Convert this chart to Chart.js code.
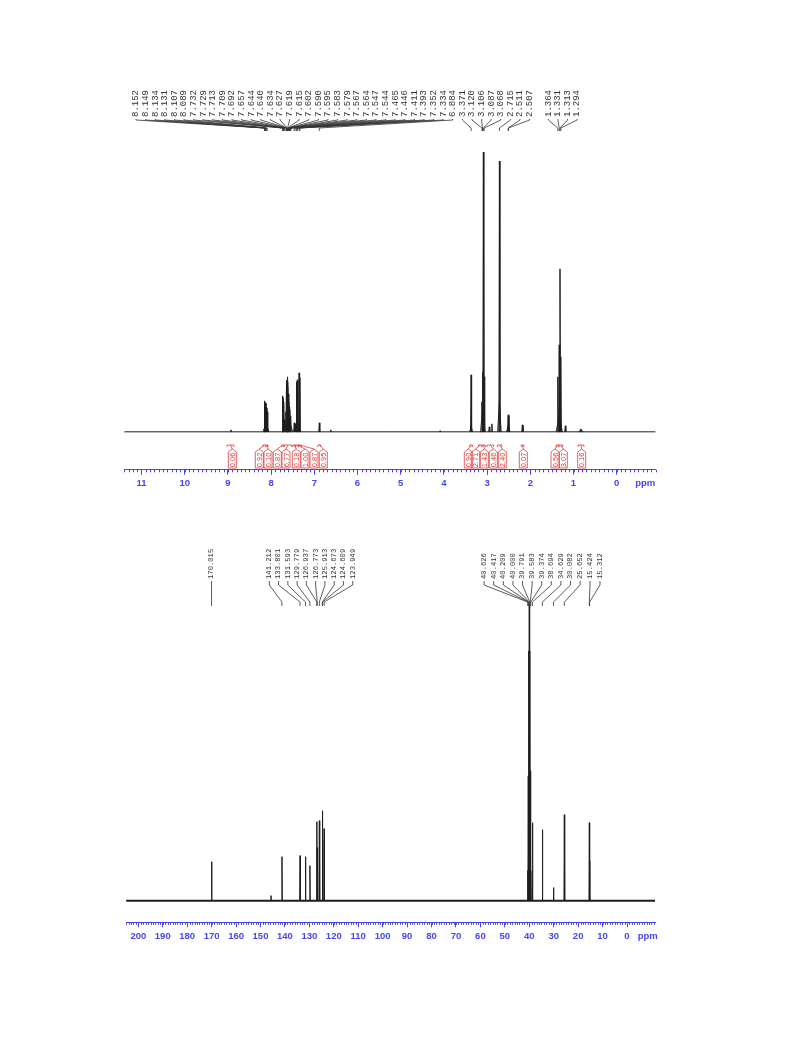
<!DOCTYPE html>
<html lang="en">
<head>
<meta charset="UTF-8">
<title>1H and 13C NMR spectra</title>
<script src="https://cdn.jsdelivr.net/npm/chart.js"></script>
<style>
    body { margin: 0; background: #fff; }
    .wrap { position: absolute; left: 0; width: 793px; }
    #h1wrap { top: 0; height: 500px; }
    #c13wrap { top: 520px; height: 450px; }
</style>
</head>
<body>
<div class="wrap" id="h1wrap"><canvas id="h1Canvas"></canvas></div>
<div class="wrap" id="c13wrap"><canvas id="c13Canvas"></canvas></div>
<script>
// ---- 1H spectrum (ppm / intensity) ----
const h1Shift = [8.930, 8.152, 8.149, 8.134, 8.131, 8.107, 8.089, 7.732, 7.729, 7.713, 7.709, 7.692,
    7.657, 7.644, 7.640, 7.634, 7.627, 7.619, 7.615, 7.602, 7.590, 7.583, 7.567, 7.547,
    7.465, 7.446, 7.411, 7.393, 7.352, 7.334, 6.884, 6.620, 4.090,
    3.371, 3.120, 3.106, 3.087, 3.068, 2.950, 2.890, 2.715, 2.511, 2.507, 2.185, 2.172,
    1.364, 1.331, 1.313, 1.294, 1.190, 0.830];
const h1Height = [2, 30, 31, 28, 29, 24, 20, 36, 35, 33, 30, 12,
    20, 47, 50, 52, 45, 55, 50, 38, 30, 25, 22, 16,
    9, 8, 50, 52, 59, 54, 9, 2, 1,
    57, 30, 60, 280, 55, 5, 8, 271, 17, 16, 7, 6,
    55, 87, 163, 75, 6, 3];
// broad multiplet bases
const h1HumpShift = [8.12, 7.60, 7.38, 3.37, 3.10, 2.715, 2.51, 1.33, 0.83];
const h1HumpHeight = [8, 14, 10, 6, 27, 30, 6, 17, 2];
const h1HumpWidth = [0.07, 0.10, 0.06, 0.03, 0.05, 0.04, 0.04, 0.07, 0.06];

// peak picking labels
const h1LabelsA = [8.152, 8.149, 8.134, 8.131, 8.107, 8.089, 7.732, 7.729, 7.713, 7.709, 7.692,
    7.657, 7.644, 7.640, 7.634, 7.627, 7.619, 7.615, 7.602, 7.590, 7.595, 7.583, 7.579, 7.567,
    7.564, 7.547, 7.544, 7.465, 7.446, 7.411, 7.393, 7.352, 7.334, 6.884,
    3.371, 3.120, 3.106, 3.087, 3.068, 2.715, 2.511, 2.507];
const h1LabelsB = [1.364, 1.331, 1.313, 1.294];

// integrals
const h1IntValue = ['0.06', '0.92', '0.10', '0.87', '6.77', '0.18', '1.00', '0.87', '0.95',
    '0.90', '2.71', '1.43', '0.46', '2.40', '0.07', '0.56', '3.07', '0.16'];
const h1IntFrom = [9.02, 8.19, 8.12, 7.75, 7.70, 7.50, 7.43, 7.37, 6.92,
    3.40, 3.20, 3.12, 3.00, 2.76, 2.21, 1.40, 1.34, 0.90];
const h1IntTo = [8.86, 8.12, 8.07, 7.70, 7.52, 7.43, 7.37, 7.30, 6.85,
    3.34, 3.12, 3.04, 2.85, 2.66, 2.15, 1.34, 1.25, 0.76];

// ---- 13C spectrum ----
const c13Shift = [170.015, 145.70, 141.212, 133.801, 131.593, 129.779, 126.937, 126.773, 125.913,
    124.673, 124.609, 123.949, 40.626, 40.417, 40.209, 40.000, 39.791, 39.583, 39.374,
    38.694, 34.629, 30.082, 25.652, 15.424, 15.312];
const c13Height = [39, 5, 44, 45, 44, 35, 79, 53, 80,
    90, 60, 72, 30, 125, 250, 296, 250, 130, 30,
    78, 71, 13, 86, 78, 40];
const c13LabelsA = [170.015];
const c13LabelsB = [141.212, 133.801, 131.593, 129.779, 126.937, 126.773, 125.913, 124.673, 124.609, 123.949];
const c13LabelsC = [40.626, 40.417, 40.209, 40.000, 39.791, 39.583, 39.374, 38.694, 34.629, 30.082, 25.652];
const c13LabelsD = [15.424, 15.312];

const axisBlue = '#4646f0';
const inkColor = '#1e1e1e';
const intRed = '#e03a3a';

function buildTrace(shifts, heights, halfWidths, defHalf) {
    const pts = [];
    shifts.forEach((s, i) => {
        const w = halfWidths ? halfWidths[i] : defHalf;
        pts.push({x: s + w, y: 0}, {x: s, y: heights[i]}, {x: s - w, y: 0}, {x: s, y: null});
    });
    return pts;
}

// rotated peak labels with the usual fan of leader lines
function makeLabelPlugin(cfg) {
    return {
        id: 'peakLabels',
        afterDraw(chart) {
            const ctx = chart.ctx, xs = chart.scales.x;
            ctx.save();
            ctx.font = cfg.font;
            ctx.fillStyle = '#333';
            ctx.strokeStyle = '#333';
            ctx.lineWidth = 0.8;
            cfg.groups.forEach(g => {
                g.values.forEach((v, i) => {
                    const px = xs.getPixelForValue(v);
                    const lx = g.x0 == null ? px : g.x0 + i * g.step;
                    ctx.save();
                    ctx.translate(lx, cfg.textBottom);
                    ctx.rotate(-Math.PI / 2);
                    ctx.textAlign = 'left';
                    ctx.textBaseline = 'middle';
                    ctx.fillText(v.toFixed(3), 0, 0);
                    ctx.restore();
                    ctx.beginPath();
                    ctx.moveTo(lx, cfg.textBottom + 2);
                    ctx.lineTo(lx, cfg.yA);
                    ctx.lineTo(px, cfg.yB);
                    ctx.lineTo(px, cfg.yC);
                    ctx.stroke();
                });
            });
            ctx.restore();
        }
    };
}

// integral brackets + red boxes
function makeIntegralPlugin(cfg) {
    return {
        id: 'integrals',
        afterDraw(chart) {
            const ctx = chart.ctx, xs = chart.scales.x;
            ctx.save();
            ctx.strokeStyle = intRed;
            ctx.fillStyle = intRed;
            ctx.lineWidth = 0.8;
            ctx.font = cfg.font;
            h1IntValue.forEach((v, i) => {
                const x1 = xs.getPixelForValue(h1IntFrom[i]);
                const x2 = xs.getPixelForValue(h1IntTo[i]);
                const mid = (x1 + x2) / 2;
                const bx = cfg.boxX[i], hw = cfg.boxHalf;
                ctx.beginPath();
                ctx.moveTo(x1, cfg.bracketY + 2);
                ctx.lineTo(x1, cfg.bracketY);
                ctx.lineTo(x2, cfg.bracketY);
                ctx.lineTo(x2, cfg.bracketY + 2);
                ctx.moveTo(mid, cfg.bracketY);
                ctx.lineTo(bx, cfg.apexY);
                ctx.stroke();
                ctx.beginPath();
                ctx.moveTo(bx, cfg.apexY);
                ctx.lineTo(bx + hw, cfg.boxTop);
                ctx.lineTo(bx + hw, cfg.boxBottom);
                ctx.lineTo(bx - hw, cfg.boxBottom);
                ctx.lineTo(bx - hw, cfg.boxTop);
                ctx.closePath();
                ctx.stroke();
                ctx.save();
                ctx.translate(bx + 0.5, (cfg.boxTop + cfg.boxBottom) / 2);
                ctx.rotate(-Math.PI / 2);
                ctx.textAlign = 'center';
                ctx.textBaseline = 'middle';
                ctx.fillText(v, 0, 0);
                ctx.restore();
            });
            ctx.restore();
        }
    };
}

// minor ticks and the "ppm" unit label
function makeAxisPlugin(cfg) {
    return {
        id: 'axisExtras',
        afterDraw(chart) {
            const ctx = chart.ctx, xs = chart.scales.x;
            const y = chart.chartArea.bottom;
            ctx.save();
            ctx.strokeStyle = axisBlue;
            ctx.lineWidth = 1;
            ctx.beginPath();
            const k0 = Math.ceil(xs.min / cfg.minor - 1e-9), k1 = Math.floor(xs.max / cfg.minor + 1e-9);
            for (let k = k0; k <= k1; k++) {
                const px = Math.round(xs.getPixelForValue(k * cfg.minor)) + 0.5;
                ctx.moveTo(px, y);
                ctx.lineTo(px, y + 2.5);
            }
            ctx.stroke();
            ctx.fillStyle = axisBlue;
            ctx.font = 'bold 9.5px "Liberation Sans", Arial, sans-serif';
            ctx.textAlign = 'center';
            ctx.textBaseline = 'top';
            ctx.fillText('ppm', xs.getPixelForValue(cfg.ppmAt), y + 9);
            ctx.restore();
        }
    };
}

function spectrumChart(id, cfg) {
    const datasets = [
        {data: [{x: cfg.xMax, y: 0}, {x: cfg.xMin, y: 0}], borderWidth: cfg.baseWidth},
        ...cfg.traces.map(t => ({data: t, borderWidth: 1}))
    ].map(d => Object.assign(d, {
        borderColor: inkColor, pointRadius: 0, showLine: true, spanGaps: false, tension: 0
    }));
    return new Chart(document.getElementById(id), {
        type: 'scatter',
        data: {datasets},
        options: {
            responsive: true,
            maintainAspectRatio: false,
            animation: false,
            layout: {padding: cfg.padding},
            plugins: {legend: {display: false}, tooltip: {enabled: false}},
            scales: {
                x: {
                    type: 'linear',
                    reverse: true,
                    min: cfg.xMin,
                    max: cfg.xMax,
                    border: {display: true, color: axisBlue, width: 1},
                    grid: {
                        display: true,
                        drawOnChartArea: false,
                        drawTicks: true,
                        tickLength: 5,
                        tickWidth: 1,
                        tickColor: c => (c.tick && c.tick.value < 0) ? 'rgba(0,0,0,0)' : axisBlue
                    },
                    ticks: {
                        stepSize: cfg.step,
                        includeBounds: false,
                        autoSkip: false,
                        maxTicksLimit: 1000,
                        maxRotation: 0,
                        padding: 3,
                        color: axisBlue,
                        font: {family: '"Liberation Sans", Arial, sans-serif', weight: 'bold', size: 9.5},
                        callback: v => v < 0 ? '' : String(Math.round(v))
                    }
                },
                y: {display: false, min: cfg.yMin, max: cfg.yMax}
            }
        },
        plugins: cfg.plugins
    });
}

// 1H chart
spectrumChart('h1Canvas', {
    xMin: -0.9, xMax: 11.4, step: 1, yMin: -38, yMax: 282, baseWidth: 1,
    padding: {left: 124.2, right: 137.4, top: 150, bottom: 7.8},
    traces: [buildTrace(h1HumpShift, h1HumpHeight, h1HumpWidth),
             buildTrace(h1Shift, h1Height, null, 0.012)],
    plugins: [
        makeAxisPlugin({minor: 0.1, ppmAt: -0.66}),
        makeLabelPlugin({
            font: '9px "Liberation Mono", "DejaVu Sans Mono", monospace',
            textBottom: 117, yA: 120, yB: 128, yC: 131,
            groups: [
                {values: h1LabelsA, x0: 136, step: 9.6},
                {values: h1LabelsB, x0: 548.3, step: 9.6}
            ]
        }),
        makeIntegralPlugin({
            font: '7.5px "Liberation Sans", Arial, sans-serif',
            bracketY: 445, apexY: 449, boxTop: 452, boxBottom: 468, boxHalf: 4,
            boxX: [232.3, 259.3, 268, 277.3, 286, 296.3, 305, 314, 323.3,
                   468.3, 475.7, 484.3, 493.3, 502.3, 523.3, 555, 563.3, 581.7]
        })
    ]
});

// 13C chart
spectrumChart('c13Canvas', {
    xMin: -11.5, xMax: 205, step: 10, yMin: -21.7, yMax: 301, baseWidth: 2,
    padding: {left: 126.1, right: 137.9, top: 80, bottom: 25.3},
    traces: [buildTrace(c13Shift, c13Height, null, 0.15)],
    plugins: [
        makeAxisPlugin({minor: 1, ppmAt: -8.5}),
        makeLabelPlugin({
            font: '7.2px "Liberation Mono", "DejaVu Sans Mono", monospace',
            textBottom: 59, yA: 65, yB: 82, yC: 86,
            groups: [
                {values: c13LabelsA, x0: null},
                {values: c13LabelsB, x0: 269.3, step: 9.27},
                {values: c13LabelsC, x0: 484.1, step: 9.6},
                {values: c13LabelsD, x0: 590, step: 10}
            ]
        })
    ]
});
</script>
</body>
</html>
